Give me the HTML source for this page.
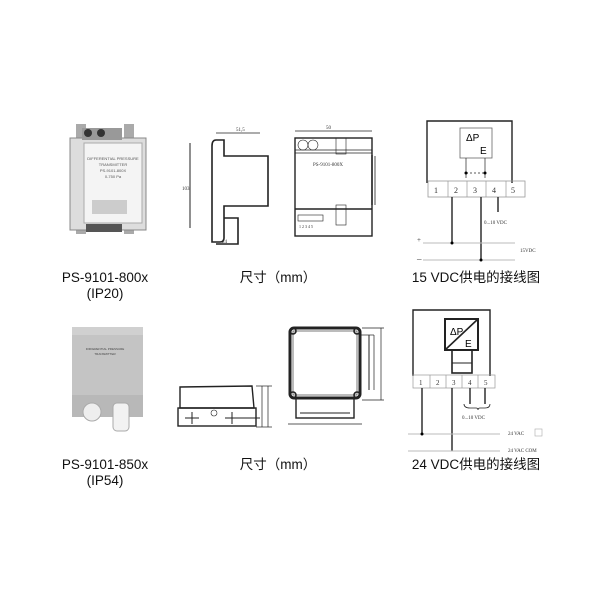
<!DOCTYPE html>
<html><head><meta charset="utf-8"><style>
html,body{margin:0;padding:0;background:#fff;width:600px;height:600px;overflow:hidden}
svg{display:block}
.l{font-family:"Liberation Sans","Noto Sans CJK SC",sans-serif;font-size:13.5px;fill:#111}
.s{font-family:"Liberation Serif",serif;fill:#333}
</style></head><body>
<svg width="600" height="600" viewBox="0 0 600 600" xmlns="http://www.w3.org/2000/svg">
<!-- Photo 1 -->
<g>
<rect x="76" y="124" width="10" height="110" fill="#aaa"/>
<rect x="124" y="124" width="10" height="110" fill="#aaa"/>
<rect x="70" y="138" width="76" height="92" fill="#ddd" stroke="#888"/>
<rect x="82" y="128" width="40" height="12" fill="#999"/>
<circle cx="88" cy="133" r="4" fill="#333"/><circle cx="101" cy="133" r="4" fill="#333"/>
<rect x="84" y="143" width="58" height="80" fill="#f4f4f4" stroke="#aaa"/>
<text x="113" y="160" font-size="4" text-anchor="middle" fill="#555" font-family="Liberation Sans">DIFFERENTIAL PRESSURE</text>
<text x="113" y="166" font-size="4" text-anchor="middle" fill="#555" font-family="Liberation Sans">TRANSMITTER</text>
<text x="113" y="172" font-size="4" text-anchor="middle" fill="#555" font-family="Liberation Sans">PS-9101-800X</text>
<text x="113" y="178" font-size="4" text-anchor="middle" fill="#555" font-family="Liberation Sans">0-750 Pa</text>
<rect x="92" y="200" width="35" height="14" fill="#ccc"/>
<rect x="86" y="224" width="36" height="8" fill="#555"/>
</g>
<!-- side drawing 1 -->
<g fill="none" stroke="#222" stroke-width="1.6">
<path d="M216,140 L224,140 L224,156 L268,156 L268,206 L224,206 L224,238 Q224,242 220,242 L212,242 L212,146 Q212,140 216,140Z"/>
<path d="M224,218 L238,218 L238,244 L216,244"/>
<line x1="190" y1="143" x2="190" y2="228" stroke-width="1"/>
<line x1="216" y1="133" x2="260" y2="133" stroke-width="0.8"/>
</g>
<text x="236" y="131" font-size="5" class="s">51,5</text>
<text x="182" y="190" font-size="5" class="s">103</text>
<text x="222" y="243" font-size="5" class="s">24</text>
<!-- front drawing 1 -->
<g fill="none" stroke="#222" stroke-width="1.4">
<rect x="295" y="138" width="77" height="98"/>
<line x1="295" y1="150" x2="372" y2="150" stroke-width="0.8"/>
<line x1="295" y1="153" x2="372" y2="153" stroke-width="0.8"/>
<line x1="295" y1="209" x2="372" y2="209"/>
<circle cx="303" cy="145" r="5" stroke-width="0.6"/><circle cx="313" cy="145" r="5" stroke-width="0.6"/>
<rect x="336" y="138" width="10" height="16" stroke-width="0.6"/>
<rect x="336" y="205" width="10" height="20" stroke-width="0.6"/>
<rect x="298" y="215" width="25" height="6" stroke-width="0.6"/>
<line x1="372" y1="155" x2="372" y2="205"/>
<line x1="375" y1="156" x2="375" y2="205" stroke-width="0.8"/>
<line x1="295" y1="131" x2="372" y2="131" stroke-width="0.8"/>
</g>
<text x="326" y="129" font-size="5" class="s">50</text>
<text x="313" y="166" font-size="5" class="s">PS-9101-800X</text>
<text x="299" y="228" font-size="4" class="s">1 2 3 4 5</text>
<!-- wiring 1 -->
<g fill="none" stroke="#222" stroke-width="1.4">
<path d="M427,183 L427,121 L512,121 L512,183"/>
<rect x="460" y="128" width="32" height="30" stroke-width="0.8" stroke="#666"/>
<line x1="466" y1="158" x2="466" y2="178" stroke-width="0.7"/>
<line x1="485" y1="158" x2="485" y2="178" stroke-width="0.7"/>
<line x1="466" y1="173" x2="485" y2="173" stroke-width="0.7" stroke-dasharray="2,2"/>
<rect x="428" y="181" width="97" height="16" stroke-width="0.8" stroke="#999"/>
<line x1="448" y1="181" x2="448" y2="197" stroke-width="0.7" stroke="#999"/>
<line x1="467" y1="181" x2="467" y2="197" stroke-width="0.7" stroke="#999"/>
<line x1="486" y1="181" x2="486" y2="197" stroke-width="0.7" stroke="#999"/>
<line x1="506" y1="181" x2="506" y2="197" stroke-width="0.7" stroke="#999"/>
<line x1="452" y1="197" x2="452" y2="243"/>
<line x1="481" y1="197" x2="481" y2="260"/>
<line x1="498" y1="197" x2="498" y2="212"/>
<line x1="423" y1="243" x2="515" y2="243" stroke="#bbb" stroke-width="1"/>
<line x1="423" y1="260" x2="515" y2="260" stroke="#bbb" stroke-width="1"/>
</g>
<circle cx="466" cy="173" r="1.5"/><circle cx="485" cy="173" r="1.5"/>
<circle cx="452" cy="243" r="1.5"/><circle cx="481" cy="260" r="1.5"/>
<text x="466" y="141" font-size="10" font-family="Liberation Sans">ΔP</text>
<text x="480" y="154" font-size="10" font-family="Liberation Sans">E</text>
<g font-size="8" class="s"><text x="434" y="193">1</text><text x="454" y="193">2</text><text x="473" y="193">3</text><text x="492" y="193">4</text><text x="511" y="193">5</text></g>
<text x="484" y="224" font-size="5" class="s">0...10 VDC</text>
<text x="417" y="242" font-size="7" class="s">+</text>
<text x="417" y="262" font-size="9" class="s">–</text>
<text x="520" y="252" font-size="5" class="s">15VDC</text>
<!-- labels top -->
<text x="105" y="282" class="l" text-anchor="middle">PS-9101-800x</text>
<text x="105" y="298" class="l" text-anchor="middle">(IP20)</text>
<text x="278" y="282" class="l" text-anchor="middle">尺寸（mm）</text>
<text x="476" y="282" class="l" text-anchor="middle">15 VDC供电的接线图</text>
<!-- Photo 2 -->
<g>
<rect x="72" y="327" width="71" height="90" rx="4" fill="#c4c4c4"/>
<rect x="72" y="327" width="71" height="8" fill="#d0d0d0"/>
<rect x="72" y="395" width="71" height="22" fill="#b8b8b8"/>
<circle cx="92" cy="412" r="9" fill="#eee" stroke="#aaa"/>
<rect x="113" y="403" width="16" height="28" rx="4" fill="#f2f2f2" stroke="#aaa"/>
<text x="105" y="350" font-size="3" text-anchor="middle" fill="#444" font-family="Liberation Sans">DIFFERENTIAL PRESSURE</text>
<text x="105" y="355" font-size="3" text-anchor="middle" fill="#444" font-family="Liberation Sans">TRANSMITTER</text>
</g>
<!-- side drawing 2 -->
<g fill="none" stroke="#222" stroke-width="1.4">
<path d="M180,387 L252,386 L254,408 L180,408Z"/>
<rect x="178" y="408" width="78" height="18"/>
<line x1="256" y1="386" x2="272" y2="386" stroke-width="0.7"/>
<line x1="268" y1="386" x2="268" y2="427" stroke-width="0.7"/>
<line x1="262" y1="386" x2="262" y2="427" stroke-width="0.7"/>
<line x1="256" y1="427" x2="272" y2="427" stroke-width="0.7"/>
<g stroke-width="1"><line x1="192" y1="412" x2="192" y2="424"/><line x1="185" y1="418" x2="199" y2="418"/>
<line x1="232" y1="412" x2="232" y2="424"/><line x1="225" y1="418" x2="260" y2="418"/></g>
<circle cx="214" cy="413" r="3" stroke-width="0.6"/>
</g>
<!-- front drawing 2 -->
<g fill="none" stroke="#222">
<rect x="290" y="328" width="70" height="70" rx="4" stroke-width="3"/>
<rect x="293" y="331" width="64" height="64" stroke-width="0.6"/>
<circle cx="293" cy="331" r="3" stroke-width="1.6"/><circle cx="357" cy="331" r="3" stroke-width="1.6"/>
<circle cx="293" cy="395" r="3" stroke-width="1.6"/><circle cx="357" cy="395" r="3" stroke-width="1.6"/>
<rect x="296" y="398" width="58" height="20" stroke-width="1.4"/>
<line x1="300" y1="413" x2="350" y2="413" stroke-width="1"/>
<line x1="288" y1="424" x2="362" y2="424" stroke-width="0.7"/>
<line x1="360" y1="335" x2="374" y2="335" stroke-width="0.7"/>
<line x1="369" y1="335" x2="369" y2="390" stroke-width="1"/>
<line x1="374" y1="335" x2="374" y2="390" stroke-width="0.7"/>
<line x1="381" y1="328" x2="381" y2="400" stroke-width="0.7"/>
<line x1="362" y1="328" x2="384" y2="328" stroke-width="0.7"/>
<line x1="362" y1="400" x2="384" y2="400" stroke-width="0.7"/>
</g>
<!-- wiring 2 -->
<g fill="none" stroke="#222" stroke-width="1.4">
<path d="M413,376 L413,310 L490,310 L490,376"/>
<rect x="445" y="319" width="33" height="31" stroke-width="2"/>
<line x1="445" y1="350" x2="478" y2="319" stroke-width="1.6"/>
<rect x="452" y="350" width="20" height="23" stroke-width="1.6"/>
<line x1="452" y1="363" x2="472" y2="363" stroke-width="1"/>
<rect x="413" y="375" width="82" height="13" stroke-width="0.7" stroke="#999"/>
<line x1="430" y1="375" x2="430" y2="388" stroke-width="0.7" stroke="#999"/>
<line x1="446" y1="375" x2="446" y2="388" stroke-width="0.7" stroke="#999"/>
<line x1="462" y1="375" x2="462" y2="388" stroke-width="0.7" stroke="#999"/>
<line x1="478" y1="375" x2="478" y2="388" stroke-width="0.7" stroke="#999"/>
<line x1="422" y1="388" x2="422" y2="434"/>
<line x1="452" y1="388" x2="452" y2="451"/>
<line x1="470" y1="388" x2="470" y2="404"/>
<line x1="485" y1="388" x2="485" y2="404"/>
<path d="M464,404 Q464,408 470,408 L476,408 Q478,408 478,410 Q478,408 480,408 L485,408 Q490,408 490,404" stroke-width="0.8"/>
<line x1="408" y1="434" x2="500" y2="434" stroke="#bbb" stroke-width="1"/>
<line x1="408" y1="451" x2="500" y2="451" stroke="#bbb" stroke-width="1"/>
</g>
<circle cx="422" cy="434" r="1.5"/>
<text x="450" y="335" font-size="10" font-family="Liberation Sans">ΔP</text>
<text x="465" y="347" font-size="10" font-family="Liberation Sans">E</text>
<g font-size="7" class="s"><text x="419" y="385">1</text><text x="436" y="385">2</text><text x="452" y="385">3</text><text x="468" y="385">4</text><text x="484" y="385">5</text></g>
<text x="462" y="419" font-size="5" class="s">0...10 VDC</text>
<text x="508" y="435" font-size="5" class="s">24 VAC</text>
<text x="508" y="452" font-size="5" class="s">24 VAC  COM</text>
<rect x="535" y="429" width="7" height="7" fill="none" stroke="#aaa" stroke-width="0.6"/>
<!-- labels bottom -->
<text x="105" y="469" class="l" text-anchor="middle">PS-9101-850x</text>
<text x="105" y="485" class="l" text-anchor="middle">(IP54)</text>
<text x="278" y="469" class="l" text-anchor="middle">尺寸（mm）</text>
<text x="476" y="469" class="l" text-anchor="middle">24 VDC供电的接线图</text>
</svg>
</body></html>
